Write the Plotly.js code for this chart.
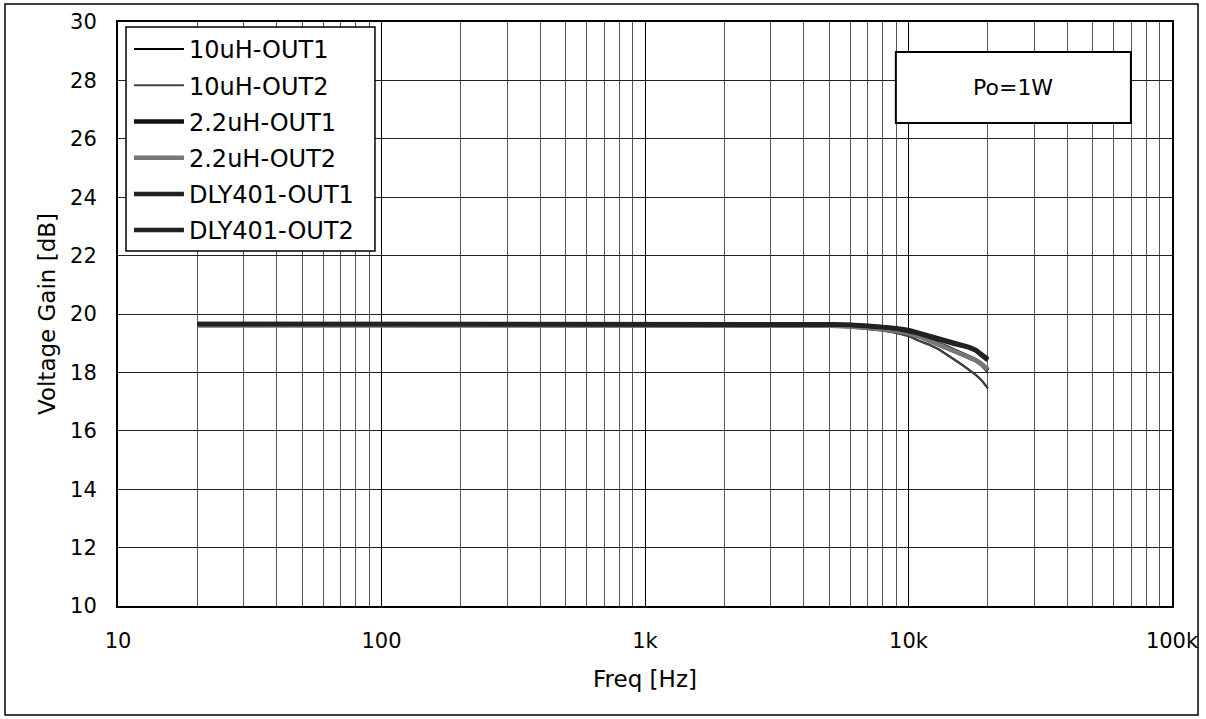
<!DOCTYPE html>
<html>
<head>
<meta charset="utf-8">
<script src="https://cdn.plot.ly/plotly-3.0.1.min.js"></script>
<style>
  html, body { margin: 0; padding: 0; background: #fff; }
  #chart { width: 1206px; height: 719px; }
</style>
</head>
<body>
<div id="chart"></div>
<script>
// Frequency points (Hz)
const freq = [20, 50, 100, 200, 500, 1000, 2000, 3000, 4000, 5000, 6000, 7000, 8000, 9000,
              10000, 11000, 12000, 13000, 14000, 15000, 16000, 17000, 18000, 19000, 20000];

// Voltage gain (dB) per series
const gain10uH_OUT1 = [19.60, 19.60, 19.60, 19.60, 19.60, 19.60, 19.60, 19.59, 19.59, 19.58, 19.55, 19.50, 19.44, 19.36,
                       19.25, 19.08, 18.95, 18.80, 18.62, 18.43, 18.26, 18.10, 17.92, 17.72, 17.45];
const gain10uH_OUT2 = [19.59, 19.59, 19.59, 19.59, 19.59, 19.59, 19.59, 19.58, 19.58, 19.57, 19.54, 19.49, 19.43, 19.35,
                       19.24, 19.07, 18.94, 18.79, 18.61, 18.42, 18.25, 18.09, 17.91, 17.71, 17.47];
const gain22uH_OUT1 = [19.65, 19.65, 19.65, 19.65, 19.65, 19.65, 19.65, 19.65, 19.65, 19.64, 19.61, 19.57, 19.52, 19.46,
                       19.38, 19.27, 19.14, 18.97, 18.86, 18.74, 18.64, 18.54, 18.42, 18.27, 18.06];
const gain22uH_OUT2 = [19.61, 19.61, 19.61, 19.61, 19.61, 19.61, 19.61, 19.61, 19.61, 19.60, 19.57, 19.53, 19.48, 19.42,
                       19.34, 19.22, 19.10, 18.95, 18.83, 18.72, 18.62, 18.53, 18.42, 18.28, 18.10];
const gainDLY_OUT1  = [19.66, 19.66, 19.66, 19.66, 19.66, 19.66, 19.66, 19.66, 19.66, 19.65, 19.63, 19.60, 19.56, 19.51,
                       19.45, 19.35, 19.24, 19.14, 19.06, 18.99, 18.93, 18.87, 18.77, 18.63, 18.46];
const gainDLY_OUT2  = [19.66, 19.66, 19.66, 19.66, 19.66, 19.66, 19.66, 19.66, 19.66, 19.65, 19.62, 19.59, 19.55, 19.50,
                       19.43, 19.33, 19.22, 19.12, 19.04, 18.97, 18.91, 18.85, 18.75, 18.60, 18.42];

const seriesNames = ["10uH-OUT1", "10uH-OUT2", "2.2uH-OUT1", "2.2uH-OUT2", "DLY401-OUT1", "DLY401-OUT2"];
const seriesValues = [gain10uH_OUT1, gain10uH_OUT2, gain22uH_OUT1, gain22uH_OUT2, gainDLY_OUT1, gainDLY_OUT2];

// Tick labels
const xTickVals = [10, 100, 1000, 10000, 100000];
const xTickText = ["10", "100", "1k", "10k", "100k"];
const yTickVals = [10, 12, 14, 16, 18, 20, 22, 24, 26, 28, 30];

const annotationText = "Po=1W";

// styles
const lineColors = ["#000000", "#444444", "#111111", "#777777", "#222222", "#222222"];
const lineWidths = [2, 2, 4.5, 4.5, 4.5, 4.5];

const traces = seriesNames.map((name, i) => ({
  type: "scatter",
  mode: "lines",
  name: name,
  x: freq,
  y: seriesValues[i],
  line: { color: lineColors[i], width: lineWidths[i] },
  legendgroup: "g" + i
}));

const FONT = "DejaVu Sans, Arial, sans-serif";

const layout = {
  width: 1206,
  height: 719,
  margin: { l: 118, r: 34, t: 22, b: 113 },
  paper_bgcolor: "#ffffff",
  plot_bgcolor: "#ffffff",
  font: { family: FONT, color: "#000", size: 21 },
  showlegend: true,
  legend: {
    x: 0.0104, y: 0.9914, xanchor: "left", yanchor: "top",
    bgcolor: "rgba(0,0,0,0)",
    borderwidth: 0,
    font: { family: FONT, size: 24, color: "#000" },
    itemwidth: 50,
    tracegroupgap: 2,
    traceorder: "grouped"
  },
  xaxis: {
    type: "log",
    range: [1, 5],
    tickmode: "array",
    tickvals: xTickVals,
    ticktext: xTickText,
    ticks: "",
    ticklabelstandoff: 15,
    tickfont: { family: FONT, size: 21, color: "#000" },
    showgrid: true,
    gridcolor: "#000",
    gridwidth: 1,
    minor: { dtick: "D1", showgrid: true, gridcolor: "#555", gridwidth: 1, ticks: "" },
    showline: true, linecolor: "#000", linewidth: 2, mirror: true,
    zeroline: false,
    title: { text: "Freq [Hz]", font: { family: FONT, size: 23, color: "#000" }, standoff: 19 }
  },
  yaxis: {
    range: [10, 30],
    tickmode: "array",
    tickvals: yTickVals,
    ticks: "",
    ticklabelstandoff: 15,
    tickfont: { family: FONT, size: 21, color: "#000" },
    showgrid: true,
    gridcolor: "#222",
    gridwidth: 1,
    showline: true, linecolor: "#000", linewidth: 2, mirror: true,
    zeroline: false,
    title: { text: "Voltage Gain [dB]", font: { family: FONT, size: 23, color: "#000" }, standoff: 8 }
  },
  shapes: [
    // legend frame
    { type: "rect", xref: "paper", yref: "paper",
      x0: 0.0076, x1: 0.2438, y0: 0.6079, y1: 0.9914,
      line: { color: "#000", width: 1.5 }, fillcolor: "#ffffff", layer: "above" },
    // Po box
    { type: "rect", xref: "paper", yref: "paper",
      x0: 0.738, x1: 0.961, y0: 0.827, y1: 0.9486,
      line: { color: "#000", width: 2 }, fillcolor: "#ffffff", layer: "above" },
    // outer frame
    { type: "rect", xref: "paper", yref: "paper",
      x0: -0.1072, x1: 1.0247, y0: -0.1866, y1: 1.0308,
      line: { color: "#000", width: 1.5 }, fillcolor: "rgba(0,0,0,0)", layer: "above" }
  ],
  annotations: [
    { xref: "paper", yref: "paper", x: 0.8496, y: 0.8878, xanchor: "center", yanchor: "middle",
      text: annotationText, showarrow: false, font: { family: FONT, size: 22, color: "#000" } }
  ]
};

Plotly.newPlot("chart", traces, layout, { staticPlot: true, displayModeBar: false });
</script>
</body>
</html>
